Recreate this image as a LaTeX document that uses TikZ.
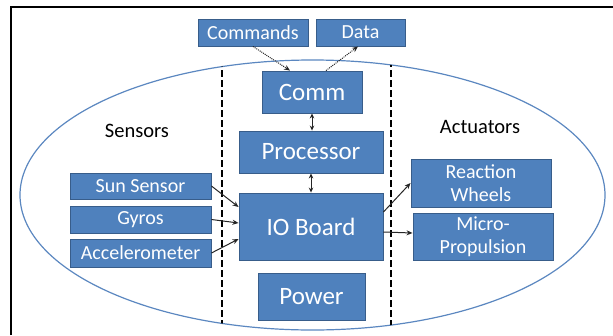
\documentclass[tikz,border=0pt]{standalone}
\usepackage{fontspec}
\setmainfont{Carlito}
\usetikzlibrary{arrows.meta,calc,shapes.geometric}
\definecolor{boxfill}{HTML}{4F81BD}
\definecolor{boxline}{HTML}{385D8A}
\definecolor{ellline}{HTML}{5B87C0}
\definecolor{arr}{HTML}{262626}
\tikzset{
  blk/.style={draw=boxline, line width=0.9pt, fill=boxfill, text=white, inner sep=0pt, align=center, anchor=center},
  small/.style={blk, font=\fontsize{20}{23}\selectfont},
  big/.style={blk, font=\fontsize{25}{28}\selectfont},
  lbl/.style={font=\fontsize{20.5}{24}\selectfont, text=black},
  conn/.style={draw=arr, line width=1pt, -{Stealth[length=6pt,width=5pt]}},
  dconn/.style={conn, densely dotted},
  bconn/.style={draw=arr, line width=1pt, {Stealth[length=5pt,width=4.5pt]}-{Stealth[length=5pt,width=4.5pt]}},
  sep/.style={draw=black, line width=1.2pt, dash pattern=on 6.5pt off 3.5pt},
}
\begin{document}
\begin{tikzpicture}[x=1pt,y=-1pt]
\useasboundingbox (0,0) rectangle (613,335);
% frame
\draw[black, line width=2.6pt] (11,335) -- (11,7) -- (613,7);
% ellipse
\node[draw=ellline, line width=1.2pt, ellipse, minimum width=585pt, minimum height=270pt, inner sep=0pt] (ell) at (312.5,195) {};
\begin{scope}
  \clip (312.5,195) ellipse [x radius=292.5, y radius=135];
  \coordinate (d1t) at (222,40); \coordinate (d1b) at (222,340);
  \coordinate (d2t) at (391,40); \coordinate (d2b) at (391,340);
  \draw[sep] (d1t) -- (d1b);
  \draw[sep] (d2t) -- (d2b);
\end{scope}
% labels
\node[lbl] (sens) at (137,131) {Sensors};
\node[lbl] (act) at (480,127) {Actuators};
% boxes
\node[small, minimum width=110pt, minimum height=27pt] (cmd) at (253,32.5) {Commands};
\node[small, minimum width=89pt, minimum height=27pt] (data) at (360.5,32.5) {Data};
\node[big, minimum width=100pt, minimum height=42pt] (comm) at (312,92) {Comm};
\node[big, minimum width=144pt, minimum height=42pt] (proc) at (311,152) {Processor};
\node[big, minimum width=144pt, minimum height=67pt] (io) at (311,226.5) {IO Board};
\node[big, minimum width=107pt, minimum height=47pt] (pow) at (311.5,296.5) {Power};
\node[small, minimum width=141pt, minimum height=26pt] (sun) at (140.5,186) {Sun Sensor};
\node[small, minimum width=141pt, minimum height=27pt] (gyr) at (140.5,219.5) {Gyros};
\node[small, minimum width=141pt, minimum height=28pt] (acc) at (140.5,253) {Accelerometer};
\node[small, minimum width=140pt, minimum height=48pt] (rw) at (481,183) {Reaction\\Wheels};
\node[small, minimum width=140pt, minimum height=47pt] (mp) at (483,236.5) {Micro-\\Propulsion};
% connectors
\draw[dconn] (cmd.south) -- ([xshift=-22pt]comm.north);
\draw[dconn] ([xshift=14pt]comm.north) -- ([xshift=-2.5pt]data.south);
\draw[bconn] (comm.south) -- (comm.south |- proc.north);
\draw[bconn] (proc.south) -- (proc.south |- io.north);
\draw[conn] (sun.east) -- ([yshift=19.5pt]io.west);
\draw[conn] (gyr.east) -- ([yshift=3.5pt]io.west);
\draw[conn] (acc.east) -- ([yshift=-12.5pt]io.west);
\draw[conn] ([yshift=14.5pt]io.east) -- (rw.west);
\draw[conn] ([yshift=-5.5pt]io.east) -- ([yshift=3.5pt]mp.west);
\end{tikzpicture}
\end{document}
